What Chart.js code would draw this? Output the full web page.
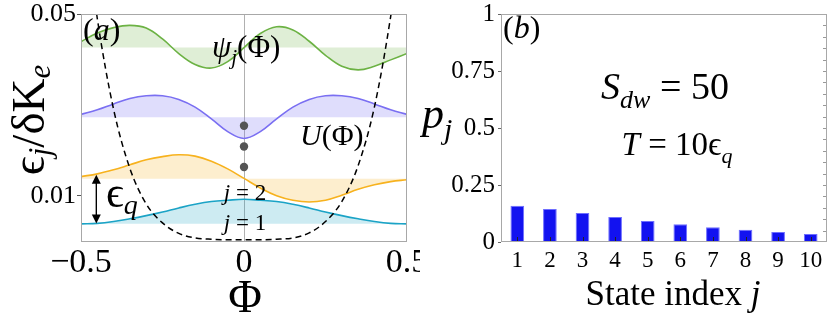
<!DOCTYPE html>
<html><head><meta charset="utf-8">
<script src="https://cdn.jsdelivr.net/npm/chart.js@4.4.0/dist/chart.umd.min.js"></script>
<style>
html,body{margin:0;padding:0;background:#fff;}
#wrap{position:relative;width:830px;height:317px;overflow:hidden;background:#fff;}
#ca{position:absolute;left:0;top:0;}
#cb{position:absolute;left:420px;top:0;}
</style></head><body>
<div id="wrap"><canvas id="ca" width="420" height="317"></canvas><canvas id="cb" width="410" height="317"></canvas></div>
<script>
// ---------- data: panel (a) ----------
const phi  = [-0.5,-0.45,-0.4,-0.35,-0.3,-0.25,-0.2,-0.15,-0.1,-0.05,0,0.05,0.1,0.15,0.2,0.25,0.3,0.35,0.4,0.45,0.5];
const psi1 = [0.0038,0.0039,0.0043,0.0049,0.0056,0.0064,0.0073,0.0081,0.0087,0.0090,0.0092,0.0090,0.0087,0.0081,0.0073,0.0064,0.0056,0.0049,0.0043,0.0039,0.0038];
const psi2 = [0.0142,0.0148,0.0157,0.0168,0.0179,0.0186,0.0190,0.0187,0.0176,0.0159,0.0138,0.0117,0.0100,0.0090,0.0086,0.0090,0.0101,0.0114,0.0124,0.0131,0.0135];
const psi3 = [0.0279,0.0289,0.0302,0.0314,0.0320,0.0320,0.0312,0.0295,0.0269,0.0241,0.0226,0.0241,0.0269,0.0295,0.0312,0.0320,0.0320,0.0314,0.0302,0.0289,0.0279];
const psi4 = [0.0439,0.0458,0.0470,0.0475,0.0469,0.0445,0.0413,0.0389,0.0381,0.0395,0.0426,0.0457,0.0472,0.0465,0.0440,0.0409,0.0385,0.0377,0.0385,0.0399,0.0413];
const baseLevels = [0.0038, 0.0137, 0.02725, 0.0426];
const uPhi = [-0.46,-0.45,-0.4,-0.35,-0.3,-0.25,-0.2,-0.15,-0.1,-0.05,0,0.05,0.1,0.15,0.2,0.25,0.3,0.35,0.4,0.45,0.46];
const uVal = [0.0545,0.0490,0.0290,0.0160,0.0082,0.0040,0.0017,0.0007,0.0004,0.0003,0.0003,0.0003,0.0004,0.0007,0.0018,0.0043,0.0087,0.0166,0.0295,0.0495,0.0548];
const dotY = [0.02538,0.02084,0.01631];
const xTicksA = [-0.5,0,0.5];
const yTicksA = [0.01,0.05];
// ---------- data: panel (b) ----------
const states = ['1','2','3','4','5','6','7','8','9','10'];
const pj = [0.159,0.1445,0.127,0.1095,0.092,0.0774,0.0642,0.054,0.0438,0.035];
const yTicksB = [0,0.25,0.5,0.75,1];

const SERIF = '"Liberation Serif","DejaVu Serif",serif';
const FRAME = '#a8a8a8';

function fnt(p){ return (p.i?'italic ':'') + p.s + 'px ' + SERIF; }
function rich(ctx, parts, x, y, align, rot){
  ctx.save(); ctx.translate(x,y); if(rot) ctx.rotate(rot);
  ctx.fillStyle='#000'; ctx.textBaseline='alphabetic'; ctx.textAlign='left';
  let w=0;
  parts.forEach(p=>{ctx.font=fnt(p); p.w=ctx.measureText(p.t).width+(p.dx||0); w+=p.w;});
  let cx = align==='center' ? -w/2 : 0;
  parts.forEach(p=>{ctx.font=fnt(p); ctx.fillText(p.t, cx, p.dy||0); cx+=p.w;});
  ctx.restore();
}
function noPad(s){ s.paddingLeft=0; s.paddingRight=0; s.paddingTop=0; s.paddingBottom=0; }

function wave(vals, base, line, fillc){
  return {data: phi.map((x,i)=>({x:x,y:vals[i]})), borderColor:line, borderWidth:1.6,
    backgroundColor:fillc, fill:{value:base}, pointRadius:0, tension:0.4};
}

const frameA = {
  id:'frameA',
  beforeDatasetsDraw(chart){
    const {ctx, chartArea:a, scales:{x}} = chart;
    const px = Math.round(x.getPixelForValue(0))+0.5;
    ctx.save(); ctx.strokeStyle='#b0b0b0'; ctx.lineWidth=1;
    ctx.beginPath(); ctx.moveTo(px,a.top); ctx.lineTo(px,a.bottom); ctx.stroke(); ctx.restore();
  },
  afterDatasetsDraw(chart){
    const {ctx, chartArea:a, scales:{x,y}} = chart;
    ctx.save(); ctx.strokeStyle=FRAME; ctx.lineWidth=1;
    ctx.strokeRect(a.left+0.5, a.top+0.5, a.right-a.left-1, a.bottom-a.top-1);
    // arrow for eps_q
    const ax = x.getPixelForValue(-0.453);
    const y1 = y.getPixelForValue(0.0146), y2 = y.getPixelForValue(0.0039);
    ctx.strokeStyle='#000'; ctx.fillStyle='#000'; ctx.lineWidth=1.4;
    ctx.beginPath(); ctx.moveTo(ax,y1+8); ctx.lineTo(ax,y2-8); ctx.stroke();
    ctx.beginPath(); ctx.moveTo(ax,y1); ctx.lineTo(ax-4.5,y1+9); ctx.lineTo(ax+4.5,y1+9); ctx.closePath(); ctx.fill();
    ctx.beginPath(); ctx.moveTo(ax,y2); ctx.lineTo(ax-4.5,y2-9); ctx.lineTo(ax+4.5,y2-9); ctx.closePath(); ctx.fill();
    ctx.restore();
    // texts
    rich(ctx,[{t:'(',s:32},{t:'a',s:32,i:1},{t:')',s:32}],83,40,'left');
    rich(ctx,[{t:'ψ',s:31,i:1},{t:'j',s:21,i:1,dy:7},{t:'(Φ)',s:31}],212,57,'left');
    rich(ctx,[{t:'U',s:30,i:1},{t:'(Φ)',s:30}],300,145,'left');
    rich(ctx,[{t:'j',s:23,i:1},{t:' = 2',s:23}],245,200,'center');
    rich(ctx,[{t:'j',s:23,i:1},{t:' = 1',s:23}],245,230,'center');
    rich(ctx,[{t:'ϵ',s:44},{t:'q',s:28,i:1,dy:7}],106,207,'left');
    rich(ctx,[{t:'Φ',s:46}],245,312,'center');
    rich(ctx,[{t:'ϵ',s:47},{t:'j',s:31,i:1,dy:6},{t:'/δK',s:47},{t:'e',s:31,i:1,dy:6}],44,120,'center',-Math.PI/2);
  }
};

new Chart(document.getElementById('ca'), {
  type:'line',
  data:{datasets:[
    {type:'scatter', data: dotY.map(v=>({x:0,y:v})), pointRadius:4.2, pointBackgroundColor:'#555', pointBorderWidth:0, showLine:false},
    {data: uPhi.map((x,i)=>({x:x,y:uVal[i]})), borderColor:'#000', borderWidth:1.5, borderDash:[6,4], pointRadius:0, fill:false, cubicInterpolationMode:'monotone'},
    wave(psi1, baseLevels[0], '#1ba3c6', 'rgba(27,163,198,0.22)'),
    wave(psi2, baseLevels[1], '#f7b21e', 'rgba(247,178,30,0.22)'),
    wave(psi3, baseLevels[2], '#7a6ff2', 'rgba(122,111,242,0.24)'),
    wave(psi4, baseLevels[3], '#6cb244', 'rgba(108,178,68,0.22)')
  ]},
  options:{
    responsive:false, animation:false, devicePixelRatio:1,
    layout:{autoPadding:false, padding:{top:14,right:13,left:0,bottom:0}},
    plugins:{legend:{display:false}, tooltip:{enabled:false}},
    scales:{
      x:{type:'linear', min:-0.5, max:0.5,
        afterBuildTicks:s=>{s.ticks=xTicksA.map(v=>({value:v}));},
        afterFit:s=>{s.height=75; noPad(s);},
        grid:{display:false, drawTicks:false}, border:{display:false},
        ticks:{color:'#000', padding:4, maxRotation:0, autoSkip:false, font:{family:SERIF,size:34,lineHeight:1},
          callback:v=> v<0 ? '\u2212'+Math.abs(v) : String(v)}},
      y:{type:'linear', min:-0.0002, max:0.05,
        afterBuildTicks:s=>{s.ticks=yTicksA.map(v=>({value:v}));},
        afterFit:s=>{s.width=81; noPad(s);},
        grid:{drawOnChartArea:false, drawTicks:true, tickLength:4, color:'#555'}, border:{display:false},
        ticks:{color:'#000', padding:1, autoSkip:false, font:{family:SERIF,size:26,lineHeight:1},
          callback:v=>v.toFixed(2)}}
    }
  },
  plugins:[frameA]
});

const frameB = {
  id:'frameB',
  afterDatasetsDraw(chart){
    const {ctx, chartArea:a, scales:{x,y}} = chart;
    ctx.save(); ctx.strokeStyle=FRAME; ctx.lineWidth=1;
    ctx.strokeRect(a.left+0.5, a.top+0.5, a.right-a.left-1, a.bottom-a.top-1);
    // right-side inward minor ticks every 0.05
    ctx.strokeStyle='#999';
    for(let k=1;k<20;k++){
      const py = Math.round(y.getPixelForValue(k/20))+0.5;
      ctx.beginPath(); ctx.moveTo(a.right-1,py); ctx.lineTo(a.right-4,py); ctx.stroke();
    }
    // bottom inward ticks at categories
    ctx.strokeStyle='#222';
    for(let i=0;i<states.length;i++){
      const px = Math.round(x.getPixelForValue(i))+0.5;
      ctx.beginPath(); ctx.moveTo(px,a.bottom-1); ctx.lineTo(px,a.bottom-5); ctx.stroke();
    }
    ctx.restore();
    rich(ctx,[{t:'(',s:32},{t:'b',s:32,i:1},{t:')',s:32}],83,38,'left');
    rich(ctx,[{t:'S',s:38,i:1},{t:'dw',s:26,i:1,dy:9},{t:' = 50',s:38}],245,99,'center');
    rich(ctx,[{t:'T',s:33,i:1},{t:' = 10ϵ',s:33},{t:'q',s:22,i:1,dy:8}],257,155,'center');
    rich(ctx,[{t:'p',s:44,i:1},{t:'j',s:30,i:1,dy:11}],2,128,'left');
    rich(ctx,[{t:'State index ',s:35},{t:'j',s:35,i:1}],253,305,'center');
  }
};

new Chart(document.getElementById('cb'), {
  type:'bar',
  data:{labels:states, datasets:[{data:pj, backgroundColor:'rgb(18,18,240)', borderColor:'rgb(110,110,255)', borderWidth:1,
    barPercentage:0.42, categoryPercentage:1}]},
  options:{
    responsive:false, animation:false, devicePixelRatio:1,
    layout:{autoPadding:false, padding:{top:14,right:3,left:0,bottom:0}},
    plugins:{legend:{display:false}, tooltip:{enabled:false}},
    scales:{
      x:{afterFit:s=>{s.height=75; noPad(s);},
        grid:{display:false, drawTicks:false}, border:{display:false},
        ticks:{color:'#000', padding:7, maxRotation:0, autoSkip:false, font:{family:SERIF,size:23,lineHeight:1}}},
      y:{min:0, max:1,
        afterBuildTicks:s=>{s.ticks=yTicksB.map(v=>({value:v}));},
        afterFit:s=>{s.width=81; noPad(s);},
        grid:{drawOnChartArea:false, drawTicks:true, tickLength:3, color:'#666'}, border:{display:false},
        ticks:{color:'#000', padding:3, autoSkip:false, font:{family:SERIF,size:25,lineHeight:1},
          callback:v=>String(v)}}
    }
  },
  plugins:[frameB]
});
</script>
</body></html>
